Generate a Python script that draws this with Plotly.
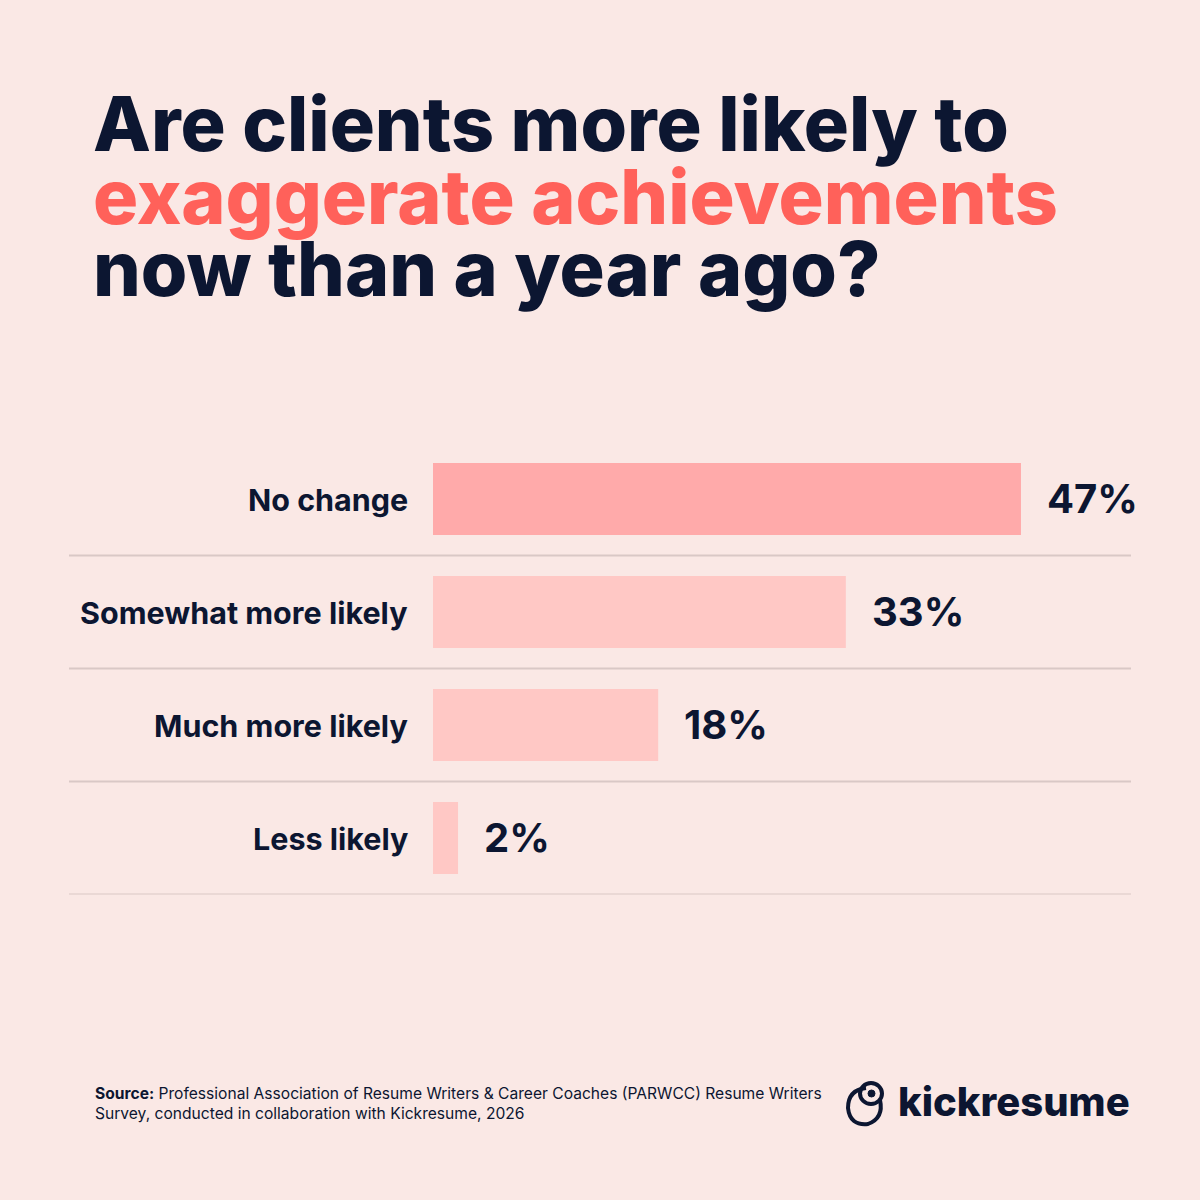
import plotly.graph_objects as go

categories = ["No change", "Somewhat more likely", "Much more likely", "Less likely"]
values = [47, 33, 18, 2]
value_labels = ["47%", "33%", "18%", "2%"]
bar_colors = ["#FFAAAA", "#FFC8C5", "#FFC8C5", "#FFC8C5"]

BG = "#FAE8E5"
NAVY = "#0C1631"
CORAL = "#FF615A"
GRID = "#D9C8C6"
W = H = 1200

ypos = list(range(len(categories)))

fig = go.Figure()
fig.add_trace(go.Bar(
    x=values, y=ypos, orientation="h",
    marker=dict(color=bar_colors, line=dict(width=0)),
    width=0.637, hoverinfo="skip",
))

annotations = []
# category labels
for i, c in enumerate(categories):
    annotations.append(dict(
        x=410 / W, xref="paper", y=i, yref="y", text=c, showarrow=False,
        xanchor="right", yanchor="middle",
        font=dict(family="Inter", size=30.5, color=NAVY, weight=700),
    ))
# value labels
for i, (v, t) in enumerate(zip(values, value_labels)):
    annotations.append(dict(
        x=v, xref="x", y=i, yref="y", text=t, showarrow=False,
        xanchor="left", yanchor="middle", xshift=24, yshift=1,
        font=dict(family="Inter", size=40, color=NAVY, weight=700),
    ))

# title
title_lines = [("Are clients more likely to", NAVY, 123),
               ("exaggerate achievements", CORAL, 196),
               ("now than a year ago?", NAVY, 269)]
for t, col, yc in title_lines:
    annotations.append(dict(
        x=91 / W, xref="paper", y=1 - yc / H, yref="paper", text=t, showarrow=False,
        xanchor="left", yanchor="middle",
        font=dict(family="Inter", size=75.3, color=col, weight=800),
    ))

# source
annotations.append(dict(
    x=93 / W, xref="paper", y=1 - 1103 / H, yref="paper",
    text="<b>Source:</b> Professional Association of Resume Writers &amp; Career Coaches (PARWCC) Resume Writers<br>Survey, conducted in collaboration with Kickresume, 2026",
    showarrow=False, xanchor="left", yanchor="middle", align="left",
    font=dict(family="Inter", size=15.6, color=NAVY),
))
# logo text
annotations.append(dict(
    x=1132 / W, xref="paper", y=1 - 1101 / H, yref="paper", text="kickresume",
    showarrow=False, xanchor="right", yanchor="middle",
    font=dict(family="Inter", size=40, color=NAVY, weight=800),
))

shapes = []
for yv in [0.5, 1.5, 2.5, 3.5]:
    shapes.append(dict(type="line", xref="paper", yref="y", x0=69 / W, x1=1131 / W,
                       y0=yv, y1=yv, line=dict(color=GRID, width=2)))
# logo icon (approximation)
shapes.append(dict(type="path", xref="paper", yref="paper",
                   path="M %f %f Q %f %f %f %f Q %f %f %f %f Q %f %f %f %f" % (
                       866 / W, 1 - 1088 / H, 848 / W, 1 - 1090 / H, 848 / W, 1 - 1108 / H,
                       850 / W, 1 - 1126 / H, 868 / W, 1 - 1124 / H,
                       884 / W, 1 - 1118 / H, 880 / W, 1 - 1100 / H),
                   line=dict(color=NAVY, width=4)))
shapes.append(dict(type="circle", xref="paper", yref="paper",
                   x0=860 / W, x1=882 / W, y0=1 - 1104 / H, y1=1 - 1083 / H,
                   line=dict(color=NAVY, width=4)))
shapes.append(dict(type="circle", xref="paper", yref="paper",
                   x0=868 / W, x1=875 / W, y0=1 - 1097 / H, y1=1 - 1090 / H,
                   fillcolor=NAVY, line=dict(color=NAVY, width=1)))

fig.update_layout(
    width=W, height=H, margin=dict(l=0, r=0, t=0, b=0),
    paper_bgcolor=BG, plot_bgcolor=BG, showlegend=False,
    xaxis=dict(domain=[433 / W, 1131 / W], range=[0, 698 / 12.51], visible=False, fixedrange=True),
    yaxis=dict(domain=[1 - 894.5 / H, 1 - 442.5 / H], range=[3.5, -0.5], visible=False, fixedrange=True),
    annotations=annotations, shapes=shapes,
)
fig.write_html("out.html")
